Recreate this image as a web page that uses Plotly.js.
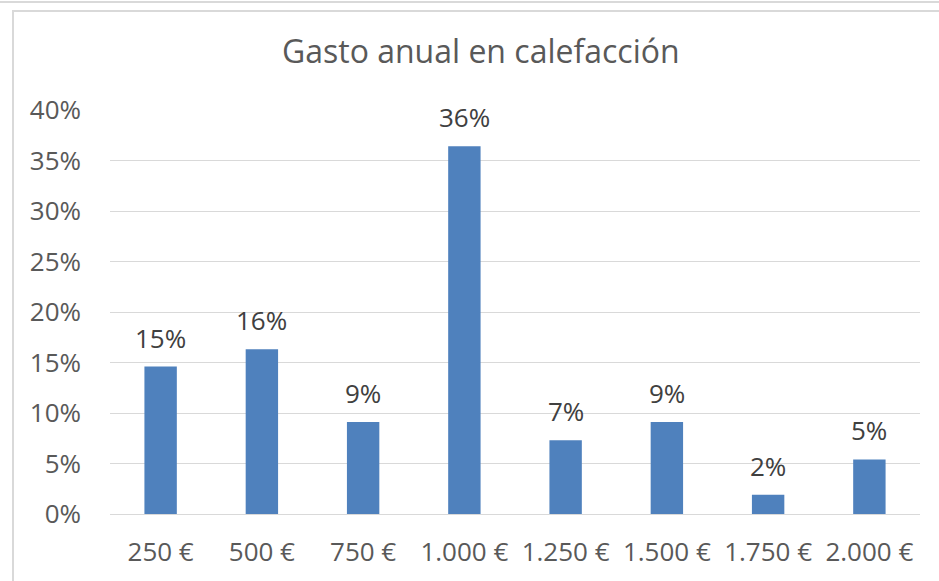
<!DOCTYPE html>
<html>
<head>
<meta charset="utf-8">
<script src="https://cdn.plot.ly/plotly-3.0.1.min.js"></script>
<style>
  html, body { margin: 0; padding: 0; background: #ffffff; }
  #wrap { position: relative; width: 939px; height: 581px; overflow: hidden; }
  #chart { position: absolute; left: 0; top: 0; width: 939px; height: 581px; }
  #topline { position: absolute; left: 0; top: 1px; width: 939px; height: 0; border-top: 2px solid #d9d9d9; }
  #frame { position: absolute; left: 12px; top: 10px; width: 940px; height: 600px; border: 2px solid #d9d9d9; }
</style>
</head>
<body>
<div id="wrap">
  <div id="chart"></div>
  <div id="topline"></div>
  <div id="frame"></div>
</div>
<script>
const categories = ["250 €", "500 €", "750 €", "1.000 €", "1.250 €", "1.500 €", "1.750 €", "2.000 €"];
const shares = [0.146, 0.163, 0.091, 0.364, 0.073, 0.091, 0.019, 0.054];
const yTickVals = [0, 0.05, 0.10, 0.15, 0.20, 0.25, 0.30, 0.35, 0.40];
const yTickText = ["0%", "5%", "10%", "15%", "20%", "25%", "30%", "35%", "40%"];
const chartTitle = "Gasto anual en calefacción";

const textColor = "#595959";
const labelColor = "#404040";
const fontFamily = "'Open Sans', 'Noto Sans', sans-serif";

const labelAnnotations = categories.map((c, i) => ({
  x: c,
  y: shares[i],
  xref: "x",
  yref: "y",
  text: Math.round(shares[i] * 100) + "%",
  showarrow: false,
  xanchor: "center",
  yanchor: "bottom",
  yshift: 9,
  font: { family: fontFamily, size: 26, color: labelColor }
}));

Plotly.newPlot("chart", [{
  type: "bar",
  x: categories,
  y: shares,
  marker: { color: "#4f81bd" },
  hoverinfo: "skip"
}], {
  width: 939,
  height: 581,
  margin: { l: 110, r: 19, t: 110, b: 67 },
  paper_bgcolor: "#ffffff",
  plot_bgcolor: "#ffffff",
  bargap: 0.68,
  showlegend: false,
  font: { family: fontFamily, color: textColor, size: 26 },
  title: {
    text: chartTitle,
    font: { family: fontFamily, size: 32, color: textColor },
    x: 0.512, xref: "container", xanchor: "center",
    y: 0.91, yref: "container", yanchor: "middle"
  },
  annotations: labelAnnotations,
  xaxis: {
    type: "category",
    showgrid: false,
    showline: true,
    linecolor: "#d9d9d9",
    linewidth: 1,
    ticks: "",
    tickfont: { family: fontFamily, size: 26, color: textColor },
    ticklabelstandoff: 15
  },
  yaxis: {
    range: [0, 0.40],
    tickvals: yTickVals,
    ticktext: yTickText,
    showgrid: true,
    gridcolor: "#d9d9d9",
    gridwidth: 1,
    zeroline: false,
    showline: false,
    ticks: "",
    tickfont: { family: fontFamily, size: 26, color: textColor },
    ticklabelstandoff: 28
  }
}, { displayModeBar: false, staticPlot: true });
</script>
</body>
</html>
